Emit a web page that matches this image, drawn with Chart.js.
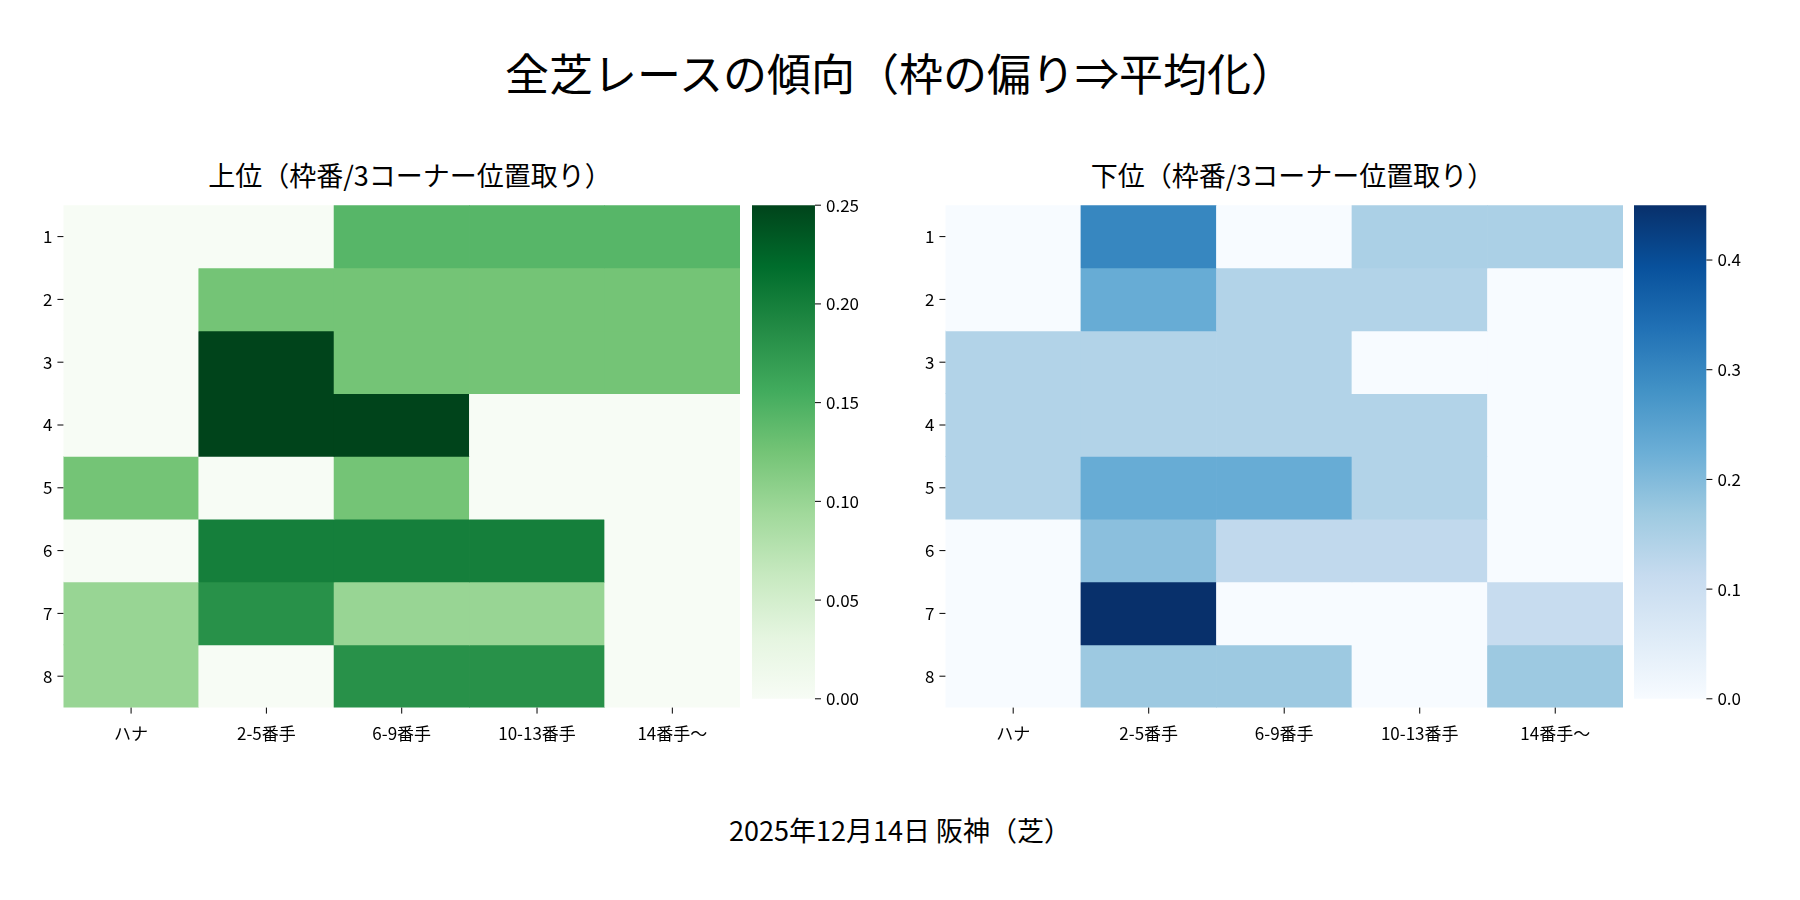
<!DOCTYPE html>
<html><head><meta charset="utf-8">
<script src="https://cdn.jsdelivr.net/npm/chart.js@4"></script>
<style>
body{margin:0;width:1800px;height:900px;background:#fff;font-family:"Noto Sans CJK JP";position:relative;overflow:hidden}
.t{position:absolute;left:0;width:1800px;text-align:center;color:#000}
.box{position:absolute}
</style></head><body>
<div class="t" style="top:40px;font-size:44px">全芝レースの傾向（枠の偏り⇒平均化）</div>
<div class="t" style="top:155px;font-size:27px;left:90px;width:640px">上位（枠番/3コーナー位置取り）</div>
<div class="t" style="top:155px;font-size:27px;left:972px;width:641px">下位（枠番/3コーナー位置取り）</div>
<div class="t" style="top:810px;font-size:27px">2025年12月14日 阪神（芝）</div>
<div class="box" style="left:40px;top:192px;width:700px;height:560px"><canvas id="hmL"></canvas></div>
<div class="box" style="left:752px;top:192px;width:110px;height:520px"><canvas id="cbL"></canvas></div>
<div class="box" style="left:922px;top:192px;width:701px;height:560px"><canvas id="hmR"></canvas></div>
<div class="box" style="left:1634px;top:192px;width:110px;height:520px"><canvas id="cbR"></canvas></div>
<script>
const positions = ["ハナ", "2-5番手", "6-9番手", "10-13番手", "14番手〜"];
const gates = ["1", "2", "3", "4", "5", "6", "7", "8"];
const topRates = [
  [0, 0, 0.143, 0.143, 0.143],
  [0, 0.125, 0.125, 0.125, 0.125],
  [0, 0.25, 0.125, 0.125, 0.125],
  [0, 0.25, 0.25, 0, 0],
  [0.125, 0, 0.125, 0, 0],
  [0, 0.2, 0.2, 0.2, 0],
  [0.1, 0.182, 0.1, 0.1, 0],
  [0.1, 0, 0.182, 0.182, 0]
];
const bottomRates = [
  [0, 0.3, 0, 0.15, 0.15],
  [0, 0.23, 0.14, 0.14, 0],
  [0.14, 0.14, 0.14, 0, 0],
  [0.14, 0.14, 0.14, 0.14, 0],
  [0.14, 0.23, 0.23, 0.14, 0],
  [0, 0.19, 0.12, 0.12, 0],
  [0, 0.45, 0, 0, 0.11],
  [0, 0.17, 0.17, 0, 0.17]
];
const greenTicks = [0, 0.05, 0.10, 0.15, 0.20, 0.25];
const blueTicks = [0, 0.1, 0.2, 0.3, 0.4];

const GREENS = ["#f7fcf5","#e5f5e0","#c7e9c0","#a1d99b","#74c476","#41ab5d","#238b45","#006d2c","#00441b"];
const BLUES = ["#f7fbff","#deebf7","#c6dbef","#9ecae1","#6baed6","#4292c6","#2171b5","#08519c","#08306b"];
function hex(h){return [1,3,5].map(i=>parseInt(h.substr(i,2),16));}
function cmap(stops, t){
  t = Math.max(0, Math.min(1, t));
  const p = t*(stops.length-1), i = Math.min(Math.floor(p), stops.length-2), f = p-i;
  const a = hex(stops[i]), b = hex(stops[i+1]);
  return `rgb(${a.map((v,k)=>Math.round(v+(b[k]-v)*f)).join(",")})`;
}
const font = {family:"Noto Sans CJK JP", size:17};
Chart.defaults.color = "#000";

function heatmap(id, rates, stops, vmax){
  new Chart(document.getElementById(id), {
    type: "bar",
    data: {
      labels: positions,
      datasets: rates.map((row, r) => ({
        label: gates[r],
        data: row.map(() => 1),
        backgroundColor: row.map(v => cmap(stops, v / vmax)),
        borderWidth: 0,
        barPercentage: 1,
        categoryPercentage: 1
      }))
    },
    options: {
      responsive: true, maintainAspectRatio: false, animation: false,
      plugins: {legend: {display: false}, tooltip: {enabled: false}},
      scales: {
        x: {stacked: true, grid: {display: false}, border: {display: false},
            ticks: {font, padding: 8}},
        y: {stacked: true, reverse: true, min: 0, max: 8,
            grid: {display: false, drawTicks: true}, border: {display: false},
            afterBuildTicks: ax => { ax.ticks = gates.map((g, i) => ({value: i + 0.5})); },
            ticks: {font, callback: v => gates[Math.round(v - 0.5)]}}
      }
    },
    plugins: [{
      id: "tickmarks",
      afterDraw(c) {
        const {ctx, chartArea: a} = c, y = c.scales.y, x = c.scales.x;
        ctx.save(); ctx.strokeStyle = "#000"; ctx.lineWidth = 1;
        gates.forEach((g, i) => { const py = y.getPixelForValue(i + 0.5);
          ctx.beginPath(); ctx.moveTo(a.left - 6, py); ctx.lineTo(a.left, py); ctx.stroke(); });
        positions.forEach((p, i) => { const px = x.getPixelForValue(i);
          ctx.beginPath(); ctx.moveTo(px, a.bottom); ctx.lineTo(px, a.bottom + 6); ctx.stroke(); });
        ctx.restore();
      }
    }]
  });
}

function colorbar(id, stops, vmax, ticks, digits){
  new Chart(document.getElementById(id), {
    type: "bar",
    data: {labels: [""], datasets: [{data: [vmax], borderWidth: 0, barPercentage: 1, categoryPercentage: 1,
      backgroundColor: ctx => {
        const a = ctx.chart.chartArea; if (!a) return stops[0];
        const g = ctx.chart.ctx.createLinearGradient(0, a.bottom, 0, a.top);
        stops.forEach((s, i) => g.addColorStop(i / (stops.length - 1), s));
        return g;
      }}]},
    options: {
      responsive: true, maintainAspectRatio: false, animation: false,
      layout: {padding: {top: 6, bottom: 2}},
      plugins: {legend: {display: false}, tooltip: {enabled: false}},
      scales: {
        x: {display: false},
        y: {position: "right", min: 0, max: vmax, grid: {display: false, drawTicks: true},
            border: {display: false},
            afterBuildTicks: ax => { ax.ticks = ticks.map(v => ({value: v})); },
            ticks: {font, callback: v => v.toFixed(digits)}}
      }
    },
    plugins: [{
      id: "cbticks",
      afterDraw(c) {
        const {ctx, chartArea: a} = c, y = c.scales.y;
        ctx.save(); ctx.strokeStyle = "#000";
        ticks.forEach(v => { const py = y.getPixelForValue(v);
          ctx.beginPath(); ctx.moveTo(a.right, py); ctx.lineTo(a.right + 6, py); ctx.stroke(); });
        ctx.restore();
      }
    }]
  });
}

heatmap("hmL", topRates, GREENS, 0.25);
heatmap("hmR", bottomRates, BLUES, 0.45);
colorbar("cbL", GREENS, 0.25, greenTicks, 2);
colorbar("cbR", BLUES, 0.45, blueTicks, 1);
</script>
</body></html>
